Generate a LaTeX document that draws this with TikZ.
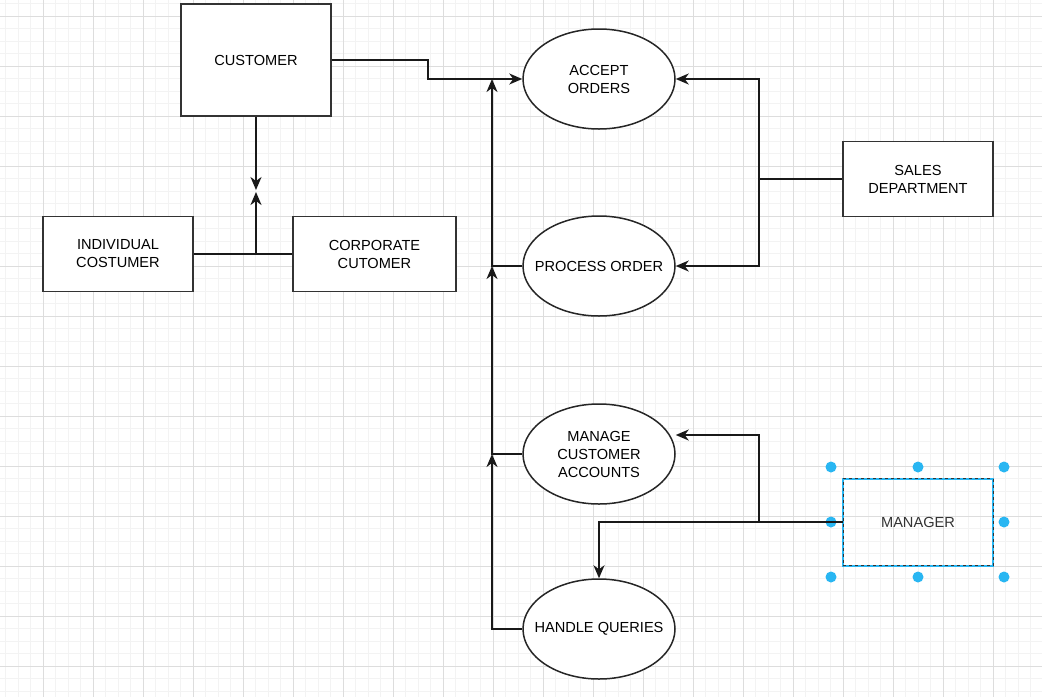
\documentclass[tikz,border=0pt]{standalone}
\usepackage{fontspec}
\setmainfont{Liberation Sans}
\usetikzlibrary{shapes.geometric,arrows.meta}

\begin{document}
\begin{tikzpicture}[x=1pt,y=-1pt,
    font=\fontsize{14.6}{18}\selectfont,
    box/.style={draw=black!80, line width=1.5pt, fill=white, rectangle,
                minimum width=150pt, minimum height=75pt, align=center, inner sep=0pt},
    proc/.style={draw=black!85, line width=1.5pt, fill=white, ellipse,
                 minimum width=152pt, minimum height=100pt, align=center,
                 inner xsep=-14pt, inner ysep=0pt},
    flow/.style={draw=black!90, line width=1.5pt},
    arr/.style={flow, -{Stealth[length=13pt,width=11pt,inset=4pt]}}]
        % Define colors
        \definecolor{gridmin}{RGB}{243, 243, 243}
        \definecolor{gridmaj}{RGB}{221, 221, 221}
        \definecolor{handle}{RGB}{41, 182, 242}

        % --- Background and grid ---
        \useasboundingbox (0,0) rectangle (1042,697);
        \fill[white] (0,0) rectangle (1042,697);
        \foreach \x in {5.5,18,...,1042} \draw[gridmin, line width=1pt] (\x,0) -- (\x,697);
        \foreach \y in {3.5,16,...,697} \draw[gridmin, line width=1pt] (0,\y) -- (1042,\y);
        \foreach \x in {43,93,...,1042} \draw[gridmaj, line width=1pt] (\x,0) -- (\x,697);
        \foreach \y in {16,66,...,697} \draw[gridmaj, line width=1pt] (0,\y) -- (1042,\y);

        % --- Entities ---
        \node[box, minimum height=112pt] (cust) at (256,60) {CUSTOMER};
        \node[box] (indiv) at (118,254) {INDIVIDUAL\\COSTUMER};
        \node[box, minimum width=163pt] (corp) at (374.5,254) {CORPORATE\\CUTOMER};
        \node[box] (sales) at (918,179) {SALES\\DEPARTMENT};

        % --- Processes ---
        \node[proc] (accept) at (599,79) {ACCEPT\\ORDERS};
        \node[proc] (procord) at (599,266) {PROCESS ORDER};
        \node[proc] (manage) at (599,454) {MANAGE\\CUSTOMER\\ACCOUNTS};
        \node[proc] (queries) at (599,629) {HANDLE QUERIES};

        % --- Manager (selected) ---
        \draw[handle, line width=1.5pt] (843,479) rectangle (993,566);
        \node[draw=black!80, dashed, line width=0.8pt, rectangle, minimum width=150pt,
              minimum height=87pt, text=black!80] (mgr) at (918,522) {MANAGER};
        \foreach \x in {831, 918, 1004}
            \foreach \y in {467, 577} \fill[handle] (\x,\y) circle (5.5pt);
        \foreach \x in {831, 1004} \fill[handle] (\x,522) circle (5.5pt);

        % Bend points
        \coordinate (kink) at (428,0);
        \coordinate (bus) at (492,0);
        \coordinate (sbus) at (759,0);
        \coordinate (mtop) at (759,435);
        \coordinate (meetdown) at (256,190);
        \coordinate (meetup) at (256,192);

        % --- Customer side ---
        \draw[arr] (cust.east) -| (kink |- accept.west) -- (accept.west);
        \draw[arr] (cust.south) -- (meetdown);
        \draw[flow] (indiv.east) -- (corp.west);
        \draw[arr] (indiv.east -| cust.south) -- (meetup);

        % --- Process chain ---
        \draw[arr] (queries.west) -- (queries.west -| bus) -- (manage.west -| bus);
        \draw[arr] (manage.west) -- (manage.west -| bus) -- (procord.west -| bus);
        \draw[arr] (procord.west) -- (procord.west -| bus) -- (accept.west -| bus);

        % --- Sales department ---
        \draw[flow] (sales.west) -- (sales.west -| sbus);
        \draw[arr] (sales.west -| sbus) |- (accept.east);
        \draw[arr] (sales.west -| sbus) |- (procord.east);

        % --- Manager ---
        \draw[arr] (mgr.west) -| (mtop) -- (mtop -| manage.east);
        \draw[arr] (mgr.west) -| (queries.north);
    \end{tikzpicture}
\end{document}
